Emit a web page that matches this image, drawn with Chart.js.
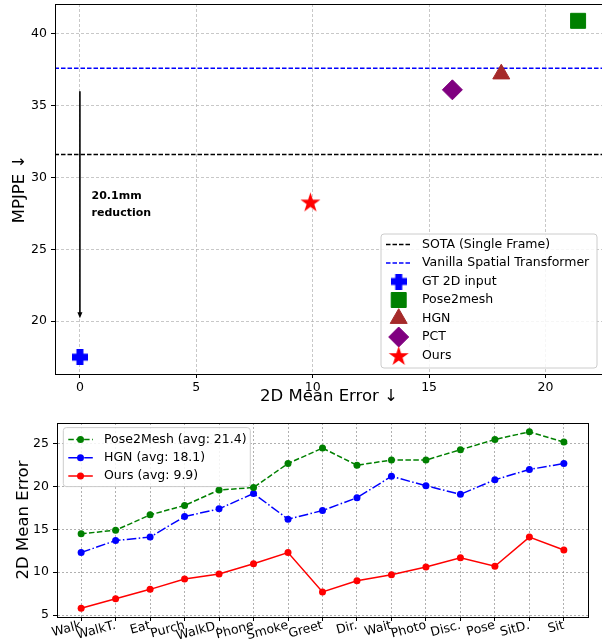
<!DOCTYPE html>
<html>
<head>
<meta charset="utf-8">
<script src="https://cdn.jsdelivr.net/npm/chart.js@4.4.1/dist/chart.umd.min.js"></script>
<style>
html,body{margin:0;padding:0;background:#fff;overflow:hidden;width:602px;height:640px;}
#wrapTop{position:absolute;left:0;top:0;}
#wrapBottom{position:absolute;left:0;top:400px;}
</style>
</head>
<body>
<div id="wrapTop"><canvas id="topChart" width="610" height="408"></canvas></div>
<div id="wrapBottom"><canvas id="bottomChart" width="602" height="240"></canvas></div>
<script>
// --- top chart data (2D error vs MPJPE) ---
const methods = ['GT 2D input', 'Pose2mesh', 'HGN', 'PCT', 'Ours'];
const err2d = [0, 21.4, 18.1, 16.0, 9.9];
const mpjpe = [17.5, 40.9, 37.2, 36.1, 28.3];
const sotaValue = 31.6;
const vanillaValue = 37.6;
const arrowFrom = 36.0;
const arrowTo = 20.2;
const xTicksTop = [0, 5, 10, 15, 20];
const yTicksTop = [20, 25, 30, 35, 40];

// --- bottom chart data (per action 2D error) ---
const actions = ['Walk', 'WalkT.', 'Eat', 'Purch', 'WalkD.', 'Phone', 'Smoke', 'Greet', 'Dir.', 'Wait', 'Photo', 'Disc.', 'Pose', 'SitD.', 'Sit'];
const pose2meshErr = [14.5, 14.9, 16.7, 17.8, 19.6, 19.9, 22.7, 24.5, 22.5, 23.1, 23.1, 24.3, 25.5, 26.4, 25.2];
const hgnErr = [12.3, 13.7, 14.1, 16.5, 17.4, 19.2, 16.2, 17.2, 18.7, 21.2, 20.1, 19.1, 20.8, 22.0, 22.7];
const oursErr = [5.8, 6.9, 8.0, 9.2, 9.8, 11.0, 12.3, 7.7, 9.0, 9.7, 10.6, 11.7, 10.7, 14.1, 12.6];
const yTicksBottom = [5, 10, 15, 20, 25];

Chart.defaults.font.family = 'DejaVu Sans';
Chart.defaults.color = '#000';

const tickFont = { size: 12.5 };
const titleFont = { size: 16.5 };

// filled marker images, matplotlib style
function plusImage(size, arm, color) {
  const c = document.createElement('canvas');
  c.width = size; c.height = size;
  const g = c.getContext('2d');
  g.fillStyle = color;
  const o = (size - arm) / 2;
  g.fillRect(o, 0, arm, size);
  g.fillRect(0, o, size, arm);
  return c;
}
function starImage(r, color) {
  const s = Math.ceil(2 * r + 2);
  const c = document.createElement('canvas');
  c.width = s; c.height = s;
  const g = c.getContext('2d');
  g.fillStyle = color;
  g.beginPath();
  for (let i = 0; i < 10; i++) {
    const rr = i % 2 === 0 ? r : r * 0.382;
    const a = -Math.PI / 2 + i * Math.PI / 5;
    const px = s / 2 + rr * Math.cos(a), py = s / 2 + 1 + rr * Math.sin(a);
    if (i === 0) g.moveTo(px, py); else g.lineTo(px, py);
  }
  g.closePath();
  g.fill();
  return c;
}

const colors = ['#0000ff', '#008000', '#a52a2a', '#800080', '#ff0000'];
const markerStyles = [plusImage(16, 7, colors[0]), 'rect', 'triangle', 'rectRot', starImage(10.5, colors[4])];
const markerRadius = [8, 10.6, 9.8, 10, 10];

// scales keep exact size, no extra label padding
const fixSize = (w, h) => s => {
  if (w != null) s.width = w;
  if (h != null) s.height = h;
  s.paddingTop = 0; s.paddingBottom = 0; s.paddingLeft = 0; s.paddingRight = 0;
};

function legendBox(ctx, x, y, w, h) {
  const r = 3;
  ctx.save();
  ctx.beginPath();
  ctx.moveTo(x + r, y);
  ctx.arcTo(x + w, y, x + w, y + h, r);
  ctx.arcTo(x + w, y + h, x, y + h, r);
  ctx.arcTo(x, y + h, x, y, r);
  ctx.arcTo(x, y, x + w, y, r);
  ctx.closePath();
  ctx.fillStyle = 'rgba(255,255,255,0.85)';
  ctx.fill();
  ctx.strokeStyle = '#cccccc';
  ctx.lineWidth = 1;
  ctx.stroke();
  ctx.restore();
}

const framePlugin = {
  id: 'frame',
  afterDraw(chart) {
    const {ctx, chartArea: a} = chart;
    ctx.save();
    ctx.strokeStyle = '#000';
    ctx.lineWidth = 1;
    ctx.strokeRect(Math.round(a.left) + 0.5, Math.round(a.top) + 0.5, Math.round(a.right - a.left), Math.round(a.bottom - a.top));
    ctx.restore();
  }
};

const arrowPlugin = {
  id: 'arrow',
  afterDatasetsDraw(chart) {
    const {ctx, scales: {x, y}} = chart;
    const px = x.getPixelForValue(0);
    const y1 = y.getPixelForValue(arrowFrom), y2 = y.getPixelForValue(arrowTo);
    ctx.save();
    ctx.strokeStyle = '#000';
    ctx.fillStyle = '#000';
    ctx.lineWidth = 1.6;
    ctx.beginPath();
    ctx.moveTo(px, y1);
    ctx.lineTo(px, y2 - 5);
    ctx.stroke();
    ctx.beginPath();
    ctx.moveTo(px, y2);
    ctx.lineTo(px - 2.5, y2 - 6);
    ctx.lineTo(px + 2.5, y2 - 6);
    ctx.closePath();
    ctx.fill();
    // label
    const tx = x.getPixelForValue(0.5);
    const ty = y.getPixelForValue(28.1);
    ctx.font = 'bold 11px "DejaVu Sans"';
    ctx.textAlign = 'left';
    ctx.textBaseline = 'middle';
    ctx.fillText((vanillaValue - mpjpe[0]).toFixed(1) + 'mm', tx, ty - 8.5);
    ctx.fillText('reduction', tx, ty + 8.5);
    ctx.restore();
  }
};

const topLegend = {
  id: 'topLegend',
  afterDraw(chart) {
    const {ctx, chartArea: a} = chart;
    const w = 216, h = 134;
    const x0 = a.right - 6 - w, y0 = a.bottom - 6 - h;
    legendBox(ctx, x0, y0, w, h);
    ctx.save();
    ctx.font = '12.5px "DejaVu Sans"';
    ctx.textBaseline = 'middle';
    ctx.textAlign = 'left';
    const rows = [
      {label: 'SOTA (Single Frame)', line: '#000000'},
      {label: 'Vanilla Spatial Transformer', line: '#0000ff'}
    ].concat(methods.map((m, i) => ({label: m, idx: i})));
    rows.forEach((row, i) => {
      const cy = y0 + 10.5 + i * 18.5;
      const cx = x0 + 17.7;
      if (row.line) {
        ctx.save();
        ctx.strokeStyle = row.line;
        ctx.lineWidth = 1.3;
        ctx.setLineDash([4.5, 2]);
        ctx.beginPath();
        ctx.moveTo(x0 + 5, cy);
        ctx.lineTo(x0 + 31, cy);
        ctx.stroke();
        ctx.restore();
      } else {
        ctx.save();
        ctx.fillStyle = colors[row.idx];
        ctx.strokeStyle = colors[row.idx];
        Chart.helpers.drawPoint(ctx, {pointStyle: markerStyles[row.idx], radius: markerRadius[row.idx], rotation: 0, borderWidth: 1}, cx, cy);
        ctx.restore();
      }
      ctx.fillStyle = '#000';
      ctx.fillText(row.label, x0 + 41, cy);
    });
    ctx.restore();
  }
};

const topDatasets = methods.map((m, i) => ({
  label: m,
  data: [{x: err2d[i], y: mpjpe[i]}],
  pointStyle: markerStyles[i],
  pointRadius: markerRadius[i],
  backgroundColor: colors[i],
  borderColor: colors[i],
  borderWidth: 1
}));
topDatasets.push({
  type: 'line', label: 'SOTA (Single Frame)',
  data: [{x: -5, y: sotaValue}, {x: 30, y: sotaValue}],
  borderColor: '#000', borderWidth: 1.3, borderDash: [4.5, 2], pointRadius: 0
});
topDatasets.push({
  type: 'line', label: 'Vanilla Spatial Transformer',
  data: [{x: -5, y: vanillaValue}, {x: 30, y: vanillaValue}],
  borderColor: '#0000ff', borderWidth: 1.3, borderDash: [4.5, 2], pointRadius: 0
});

new Chart(document.getElementById('topChart'), {
  type: 'scatter',
  data: {datasets: topDatasets},
  options: {
    responsive: false,
    animation: false,
    events: [],
    layout: {autoPadding: false, padding: {left: 0, top: 4, right: 7, bottom: 0}},
    plugins: {legend: {display: false}, tooltip: {enabled: false}},
    scales: {
      x: {
        type: 'linear', min: -1.07, max: 22.47,
        afterBuildTicks: s => { s.ticks = xTicksTop.map(v => ({value: v})); },
        afterFit: fixSize(null, 34),
        ticks: {font: tickFont, padding: 2},
        grid: {color: 'rgba(176,176,176,0.7)', tickColor: '#000', tickLength: 4, tickBorderDash: []},
        border: {color: '#000', dash: [3, 2]},
        title: {display: true, text: '2D Mean Error ↓', font: titleFont, padding: {top: 0, bottom: 1}}
      },
      y: {
        type: 'linear', min: 16.33, max: 42.07,
        afterBuildTicks: s => { s.ticks = yTicksTop.map(v => ({value: v})); },
        afterFit: fixSize(55, null),
        ticks: {font: tickFont, padding: 4},
        grid: {color: 'rgba(176,176,176,0.7)', tickColor: '#000', tickLength: 4, tickBorderDash: []},
        border: {color: '#000', dash: [3, 2]},
        title: {display: true, text: 'MPJPE ↓', font: titleFont, padding: {top: 10, bottom: 0}}
      }
    }
  },
  plugins: [framePlugin, arrowPlugin, topLegend]
});

// --- bottom chart ---
const avg = arr => (arr.reduce((s, v) => s + v, 0) / arr.length).toFixed(1);
const toPoints = arr => arr.map((v, i) => ({x: i, y: v}));
const bottomSeries = [
  {label: `Pose2Mesh (avg: ${avg(pose2meshErr)})`, values: pose2meshErr, color: '#008000', dash: [5.5, 2.4]},
  {label: `HGN (avg: ${avg(hgnErr)})`, values: hgnErr, color: '#0000ff', dash: [9.6, 2.4, 1.5, 2.4]},
  {label: `Ours (avg: ${avg(oursErr)})`, values: oursErr, color: '#ff0000', dash: []}
];

const bottomLegend = {
  id: 'bottomLegend',
  afterDraw(chart) {
    const {ctx, chartArea: a} = chart;
    const w = 187, h = 59;
    const x0 = a.left + 6.3, y0 = a.top + 4.6;
    legendBox(ctx, x0, y0, w, h);
    ctx.save();
    ctx.font = '12.5px "DejaVu Sans"';
    ctx.textBaseline = 'middle';
    ctx.textAlign = 'left';
    bottomSeries.forEach((s, i) => {
      const cy = y0 + 12 + i * 18.2;
      ctx.save();
      ctx.strokeStyle = s.color;
      ctx.fillStyle = s.color;
      ctx.lineWidth = 1.5;
      ctx.setLineDash(s.dash);
      ctx.beginPath();
      ctx.moveTo(x0 + 5, cy);
      ctx.lineTo(x0 + 29.5, cy);
      ctx.stroke();
      ctx.setLineDash([]);
      ctx.beginPath();
      ctx.arc(x0 + 17.2, cy, 3.5, 0, Math.PI * 2);
      ctx.fill();
      ctx.restore();
      ctx.fillStyle = '#000';
      ctx.fillText(s.label, x0 + 40.7, cy);
    });
    ctx.restore();
  }
};

new Chart(document.getElementById('bottomChart'), {
  type: 'line',
  data: {
    datasets: bottomSeries.map(s => ({
      label: s.label,
      data: toPoints(s.values),
      borderColor: s.color,
      backgroundColor: s.color,
      borderWidth: 1.5,
      borderDash: s.dash,
      pointRadius: 3.5,
      pointBorderWidth: 0,
      tension: 0
    }))
  },
  options: {
    responsive: false,
    animation: false,
    events: [],
    layout: {autoPadding: false, padding: {left: 0, top: 23, right: 14, bottom: 0}},
    plugins: {legend: {display: false}, tooltip: {enabled: false}},
    scales: {
      x: {
        type: 'linear', min: -0.7, max: 14.7,
        afterBuildTicks: s => { s.ticks = actions.map((a, i) => ({value: i})); },
        afterFit: fixSize(null, 23),
        ticks: {font: tickFont, padding: -3, minRotation: 15, maxRotation: 15, autoSkip: false,
          callback: v => actions[v]},
        grid: {color: 'rgba(150,150,150,0.75)', tickColor: '#000', tickLength: 4, tickBorderDash: []},
        border: {color: '#000', dash: [2, 2]}
      },
      y: {
        type: 'linear', min: 4.77, max: 27.43,
        afterBuildTicks: s => { s.ticks = yTicksBottom.map(v => ({value: v})); },
        afterFit: fixSize(57, null),
        ticks: {font: tickFont, padding: 4},
        grid: {color: 'rgba(150,150,150,0.75)', tickColor: '#000', tickLength: 4, tickBorderDash: []},
        border: {color: '#000', dash: [2, 2]},
        title: {display: true, text: '2D Mean Error', font: titleFont, padding: {top: 14, bottom: 0}}
      }
    }
  },
  plugins: [framePlugin, bottomLegend]
});
</script>
</body>
</html>
